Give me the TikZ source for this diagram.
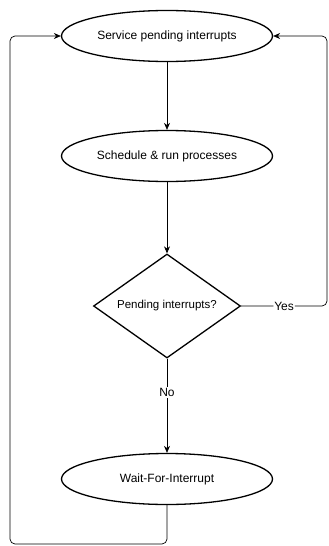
\documentclass[tikz,border=0pt]{standalone}
\usepackage{fontspec}
\setmainfont{Liberation Sans}
\usepackage{tikz}
\usetikzlibrary{shapes.geometric, arrows.meta, positioning}

\begin{document}
\begin{tikzpicture}[
    x=1pt, y=-1pt,
    state/.style={draw, ellipse, line width=1.3pt, minimum width=211pt, minimum height=51pt, inner sep=0pt, font=\fontsize{12}{14}\selectfont},
    decision/.style={draw, diamond, line width=1.3pt, minimum width=147pt, minimum height=104pt, aspect=1.4, inner sep=0pt, font=\fontsize{11.5}{14}\selectfont},
    flow/.style={-{Stealth[length=7pt,width=6pt]}, line width=0.7pt},
    loop/.style={flow, rounded corners=5pt},
    lbl/.style={fill=white, inner sep=1pt, font=\fontsize{12}{14}\selectfont}
]
    \useasboundingbox (0,0) rectangle (329,546);

    % Main flow
    \node[state] (service) at (167, 36) {Service pending interrupts};
    \node[state] (schedule) at (167, 156) {Schedule \& run processes};
    \node[decision] (pending) at (167, 306) {Pending interrupts?};
    \node[state] (wfi) at (167, 479) {Wait-For-Interrupt};

    \draw[flow] (service) -- (schedule);
    \draw[flow] (schedule) -- (pending);
    \draw[flow] (pending) -- node[lbl, pos=0.36] {No} (wfi);

    % Loops back to the top
    \coordinate (rgt) at (327, 36);
    \coordinate (bot) at (10, 544);
    \draw[loop] (pending.east) -- node[lbl] {Yes} (pending.east -| rgt) -- (rgt) -- (service.east);
    \draw[loop] (wfi.south) -- (wfi.south |- bot) -- (bot) -- (bot |- service.west) -- (service.west);

\end{tikzpicture}
\end{document}
